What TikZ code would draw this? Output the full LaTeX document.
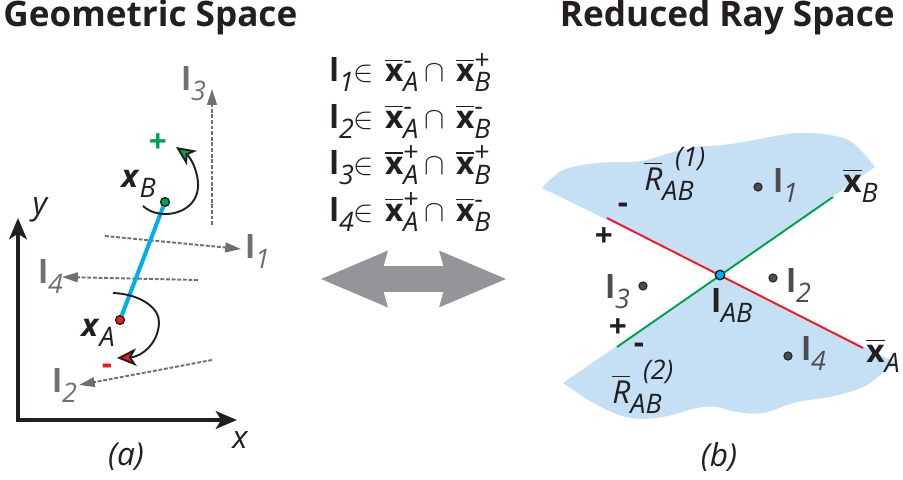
\documentclass[tikz,border=0pt]{standalone}
\usepackage{amsmath}
\usepackage{graphicx}
\usepackage{fontspec}
\setmainfont{Open Sans}
\usetikzlibrary{arrows.meta,positioning}

\definecolor{inkblack}{RGB}{35,31,32}
\definecolor{raygray}{RGB}{110,111,114}
\definecolor{dotgray}{RGB}{77,77,79}
\definecolor{skyfill}{RGB}{197,224,244}
\definecolor{segblue}{RGB}{0,174,239}
\definecolor{redray}{RGB}{237,28,36}
\definecolor{greenray}{RGB}{0,161,75}
\definecolor{arrgray}{RGB}{147,149,152}

%% sub- and superscript helpers
\newcommand{\lo}[1]{\raisebox{-0.32em}{\scalebox{0.85}{\itshape #1}}}
\newcommand{\lohi}[2]{%
  \rlap{\raisebox{0.4em}{\scalebox{0.85}{#2}}}\lo{#1}}
\newcommand{\xbar}{\ensuremath{\overline{\text{\bfseries x}}}}
\newcommand{\Rbar}{\ensuremath{\overline{\text{\itshape R}}}}
\newcommand{\member}[3]{%
  \textbf{l}\lo{#1}$\in$\hspace{0.35em}\xbar\lohi{A}{#2}\hspace{0.2em}$\cap$\hspace{0.35em}\xbar\lohi{B}{#3}}

\tikzset{
  %% Text
  title/.style={font=\fontsize{20}{22}\selectfont\bfseries,
    text=inkblack, inner sep=0pt},
  txt/.style={font=\fontsize{18}{20}\selectfont,
    text=inkblack, inner sep=0pt},
  itxt/.style={txt, font=\fontsize{18}{20}\selectfont\itshape},
  glbl/.style={txt, text=raygray},
  dlbl/.style={txt, text=dotgray},
  sign/.style={txt, font=\fontsize{18}{20}\selectfont\bfseries},
  %% Points
  endpt/.style={circle, draw=inkblack, line width=0.8pt,
    minimum size=5pt, inner sep=0pt},
  raypt/.style={circle, draw=inkblack, fill=dotgray, line width=0.6pt,
    minimum size=4.6pt, inner sep=0pt},
  %% Lines and arrows
  axis/.style={inkblack, line width=2.2pt,
    {Stealth[length=12pt, width=10pt, inset=3pt]}-{Stealth[length=12pt, width=10pt, inset=3pt]}},
  ray/.style={raygray, line width=1.1pt, dash pattern=on 2.2pt off 1pt,
    -{Triangle[length=9pt, width=5.5pt]}},
  seg/.style={segblue, line width=2.3pt},
  turn/.style={inkblack, line width=1.1pt},
  dblarrow/.style={arrgray, line width=14.8pt,
    {Stealth[length=1.34cm, width=1.14cm, inset=0.16cm, line width=0pt]}-%
    {Stealth[length=1.34cm, width=1.14cm, inset=0.16cm, line width=0pt]}},
  lineA/.style={redray, line width=1.1pt},
  lineB/.style={greenray, line width=1.1pt},
}

\begin{document}
\begin{tikzpicture}[x=0.02cm, y=-0.02cm]
  \useasboundingbox (0,0) rectangle (903,480);

  %% Titles
  \node[title, anchor=base west] (ttlgeo) at (3,27) {Geometric Space};
  \node[title, anchor=base east] (ttlray) at (895,27) {Reduced Ray Space};

  %% Axes
  \coordinate (ytip) at (18,218);
  \coordinate (orig) at (18,420);
  \coordinate (xtip) at (237,420);
  \draw[axis] (ytip) -- (orig) -- (xtip);
  \node[itxt] (ylbl) at (40,210) {y};
  \node[itxt] (xlbl) at (240,440) {x};
  \node[itxt] (capa) at (126,457) {(a)};

  %% Rays (dashed)
  \coordinate (r1s) at (105,236);  \coordinate (r1e) at (241,249);
  \coordinate (r2s) at (212,360);  \coordinate (r2e) at (79,385);
  \coordinate (r3s) at (212,225);  \coordinate (r3e) at (212,89);
  \coordinate (r4s) at (198,280);  \coordinate (r4e) at (62,277);
  \draw[ray] (r1s) -- (r1e);
  \draw[ray] (r2s) -- (r2e);
  \draw[ray] (r3s) -- (r3e);
  \draw[ray] (r4s) -- (r4e);
  \node[glbl, anchor=base west] (g1) at (245,258) {\textbf{l}\lo{1}};
  \node[glbl, anchor=base west] (g2) at (52,392) {\textbf{l}\lo{2}};
  \node[glbl, anchor=base west] (g3) at (181,90) {\textbf{l}\lo{3}};
  \node[glbl, anchor=base west] (g4) at (38,283) {\textbf{l}\lo{4}};

  %% Segment between the two points
  \node[endpt, fill=redray]   (xA) at (120,320) {};
  \node[endpt, fill=greenray] (xB) at (165,202) {};
  \draw[seg] (xA) -- (xB);
  \node[txt, anchor=base west] (xAlbl) at (81,336) {\textbf{\itshape x}\lo{A}};
  \node[txt, anchor=base west] (xBlbl) at (121,187) {\textbf{\itshape x}\lo{B}};

  %% Turning arrows
  \coordinate (tBs) at (143,206);  \coordinate (tBe) at (176,147);
  \coordinate (tAs) at (113,293);  \coordinate (tAe) at (117,358);
  \draw[turn, -{Stealth[length=11pt, width=10pt, inset=3pt, fill=greenray]}]
    (tBs) .. controls (160,222) and (200,214) .. (198,183)
          .. controls (197,167) and (189,156) .. (tBe);
  \draw[turn, -{Stealth[length=11pt, width=10pt, inset=3pt, fill=redray]}]
    (tAs) .. controls (140,294) and (160,308) .. (159,323)
          .. controls (158,345) and (140,357) .. (tAe);
  \node[sign, text=greenray] (plusB) at (158,143) {+};
  \node[sign, text=redray]   (minA)  at (107,369) {-};

  %% Membership lines
  \node[txt, font=\fontsize{18}{26.4}\selectfont, align=left,
        anchor=base west] (eqs) at (329,221)
    {\member{1}{-}{+}\\ \member{2}{-}{-}\\ \member{3}{+}{+}\\ \member{4}{+}{-}};

  %% Double arrow
  \coordinate (dblL) at (321,279);
  \coordinate (dblR) at (506,279);
  \draw[dblarrow] (dblL) -- (dblR);

  %% Ray space regions
  \fill[skyfill] (542,188) -- (720,275) -- (875,167)
    -- plot[smooth, tension=0.6] coordinates {(875,167) (853,143) (830,135)
       (797,133) (770,137) (743,142) (723,145) (697,147) (670,153)
       (647,160) (630,162) (597,163) (563,170) (542,188)} -- cycle;
  \fill[skyfill] (563,383) -- (720,275) -- (897,363)
    -- plot[smooth, tension=0.6] coordinates {(897,363) (883,373) (863,387)
       (830,397) (797,402) (763,413) (737,412) (717,407) (697,408)
       (663,417) (630,418) (597,405) (563,383)} -- cycle;

  %% Lines of xA and xB
  \coordinate (xAs) at (607,218);  \coordinate (xAe) at (863,348);
  \coordinate (xBs) at (617,347);  \coordinate (xBe) at (833,197);
  \draw[lineA] (xAs) -- (xAe);
  \draw[lineB] (xBs) -- (xBe);
  \node[txt, anchor=base west] (xAbar) at (866,362) {\xbar\lo{A}};
  \node[txt, anchor=base west] (xBbar) at (843,192) {\xbar\lo{B}};

  %% Intersection and rays as points
  \node[endpt, fill=segblue, minimum size=5.4pt] (lAB) at (720,275) {};
  \node[txt, anchor=base west] (lABlbl) at (711,312) {\textbf{l}\lo{AB}};
  \node[raypt] (p1) at (758,187) {};
  \node[raypt] (p2) at (773,278) {};
  \node[raypt] (p3) at (643,286) {};
  \node[raypt] (p4) at (788,356) {};
  \node[dlbl, anchor=base west] (p1lbl) at (773,192) {\textbf{l}\lo{1}};
  \node[dlbl, anchor=base west] (p2lbl) at (786,292) {\textbf{l}\lo{2}};
  \node[dlbl, anchor=base west] (p3lbl) at (605,298) {\textbf{l}\lo{3}};
  \node[dlbl, anchor=base west] (p4lbl) at (801,360) {\textbf{l}\lo{4}};

  %% Region names
  \node[txt, anchor=base west] (reg1) at (644,190)
    {\Rbar\rlap{\hspace{0.4em}\raisebox{0.75em}{\scalebox{0.85}{\itshape (1)}}}\lo{AB}};
  \node[txt, anchor=base west] (reg2) at (612,403)
    {\Rbar\rlap{\hspace{0.4em}\raisebox{0.75em}{\scalebox{0.85}{\itshape (2)}}}\lo{AB}};

  %% Side signs
  \node[sign] (sgn1) at (623,208) {-};
  \node[sign] (sgn2) at (604,237) {+};
  \node[sign] (sgn3) at (618,328) {+};
  \node[sign] (sgn4) at (639,348) {-};

  \node[itxt] (capb) at (719,457) {(b)};
\end{tikzpicture}
\end{document}
